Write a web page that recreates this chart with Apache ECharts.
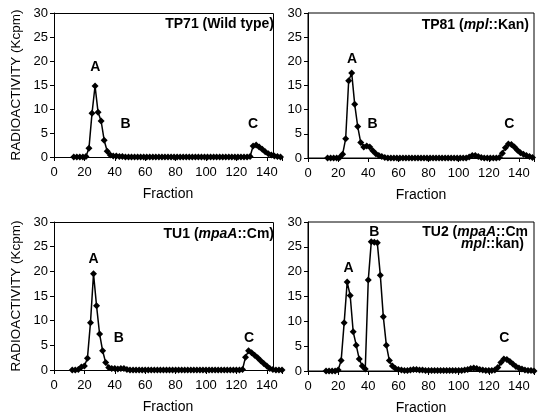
<!DOCTYPE html>
<html><head><meta charset="utf-8">
<script src="https://cdn.jsdelivr.net/npm/echarts@6/dist/echarts.min.js"></script>
<style>html,body{margin:0;padding:0;background:#fff}#c{width:542px;height:418px}</style>
</head><body><div id="c"></div>
<script>
const fractionsOdd = [13,15,17,19,21,23,25,27,29,31,33,35,37,39,41,43,45,47,49,51,53,55,57,59,61,63,65,67,69,71,73,75,77,79,81,83,85,87,89,91,93,95,97,99,101,103,105,107,109,111,113,115,117,119,121,123,125,127,129,131,133,135,137,139,141,143,145,147,149];
const fractionsEven = [12,14,16,18,20,22,24,26,28,30,32,34,36,38,40,42,44,46,48,50,52,54,56,58,60,62,64,66,68,70,72,74,76,78,80,82,84,86,88,90,92,94,96,98,100,102,104,106,108,110,112,114,116,118,120,122,124,126,128,130,132,134,136,138,140,142,144,146,148,150];

// TP71 (Wild type) - odd fractions
const tp71 = [0,0,0,0,0.1,1.8,9.1,14.8,9.3,7.5,3.5,1.2,0.4,0.2,0.2,0.1,0.1,
  0,0,0,0,0,0,0,0,0,0,0,0,0,0,0,0,0,0,0,0,0,0,0,0,0,0,0,0,0,0,0,0,0,0,0,0,0,0,0,0,0,
  0.1,2.3,2.5,2.1,1.6,1.1,0.7,0.4,0.2,0.1,0];
// TP81 (mpl::Kan) - odd fractions
const tp81 = [0,0,0,0,0.1,0.8,4.0,16.0,17.6,11.1,6.5,3.2,2.3,2.5,2.3,1.5,0.9,0.5,0.3,0.1,
  0,0,0,0,0,0,0,0,0,0,0,0,0,0,0,0,0,0,0,0,0,0,0,0,0,0,0,
  0.2,0.5,0.5,0.3,0.1,
  0,0,0,0,0,
  0.1,1.0,2.1,2.9,2.8,2.3,1.6,1.1,0.8,0.5,0.3,0.1];
// TU1 (mpaA::Cm) - even fractions
const tu1 = [0,0,0.1,0.6,0.8,2.4,9.6,19.5,13.0,7.3,3.9,1.5,0.5,0.3,0.3,0.2,0.3,0.3,0.1,
  0,0,0,0,0,0,0,0,0,0,0,0,0,0,0,0,0,0,0,0,0,0,0,0,0,0,0,0,0,0,0,0,0,0,0,0,0,
  0.1,2.6,3.9,3.5,3.0,2.5,1.9,1.3,0.8,0.3,0.1,0,0,0];
// TU2 (mpaA::Cm mpl::kan) - even fractions
const tu2 = [0,0,0,0,0.2,2.1,9.7,17.9,15.2,7.9,5.2,2.4,1.0,0.4,18.3,26.0,25.9,25.8,19.3,10.9,5.2,2.1,1.0,0.5,0.3,
  0.2,0.1,0.1,0.2,0.3,0.3,0.2,0.2,0.1,0.1,0.1,0.1,0.1,0.1,0.1,0.1,0.1,0.1,0.1,0.1,0.1,0.2,0.3,0.5,0.6,0.5,0.3,0.2,0.1,0.1,0.1,
  0.2,0.7,1.7,2.4,2.3,1.9,1.4,0.9,0.6,0.4,0.2,0.1,0.1,0];

const peakNames = ['A','B','C'];
const peakPos1 = [[27.2,18.7],[47,6.9],[131,6.9]];
const peakPos2 = [[29.2,20.5],[42.9,7.0],[133.6,7.0]];
const peakPos3 = [[26,22.4],[42.6,6.4],[128.3,6.4]];
const peakPos4 = [[27,20.7],[44,28],[130.3,6.6]];

const yTicks = [0,5,10,15,20,25,30];
const xTicks = [0,20,40,60,80,100,120,140];

const FONT = '"Liberation Sans", Arial, Helvetica, sans-serif';

const grids = [
  {left:54, top:13, width:228, height:144},
  {left:308, top:13, width:226, height:145, show:true, borderColor:'#000', borderWidth:1},
  {left:54, top:222, width:228, height:148},
  {left:308, top:222, width:226, height:149, show:true, borderColor:'#000', borderWidth:1}
];

function xAxis(i){
  return {gridIndex:i, type:'value', min:0, max:150, interval:20,
    axisLine:{lineStyle:{color:'#000',width:1}},
    axisTick:{length:4, lineStyle:{color:'#000'}},
    axisLabel:{color:'#000', fontSize:13, margin:9, fontFamily:FONT,
      formatter:v => xTicks.indexOf(v) >= 0 ? String(v) : ''},
    splitLine:{show:false},
    name:'Fraction', nameLocation:'middle', nameGap:30,
    nameTextStyle:{color:'#000', fontSize:14, fontFamily:FONT}};
}
function yAxis(i, withName){
  const a = {gridIndex:i, type:'value', min:0, max:30, interval:5,
    axisLine:{show:true, lineStyle:{color:'#000',width:1}},
    axisTick:{show:true, length:4, lineStyle:{color:'#000'}},
    axisLabel:{color:'#000', fontSize:13, margin:6, fontFamily:FONT,
      formatter:v => yTicks.indexOf(v) >= 0 ? String(v) : ''},
    splitLine:{show:false}};
  if (withName) {
    a.name = 'RADIOACTIVITY (Kcpm)';
    a.nameLocation = 'middle';
    a.nameGap = 31;
    a.nameTextStyle = {color:'#000', fontSize:13.5, fontFamily:FONT};
  }
  return a;
}
function lineSeries(i, xs, ys){
  return {type:'line', xAxisIndex:i, yAxisIndex:i,
    data: xs.map((x,k)=>[x, ys[k]]),
    symbol:'diamond', symbolSize:7, showAllSymbol:true,
    lineStyle:{color:'#000', width:1.5}, itemStyle:{color:'#000'},
    animation:false, silent:true, clip:false};
}

const richStyles = {
  b:{fontSize:14, fontWeight:'bold', fontFamily:FONT, fill:'#000'},
  i:{fontSize:14, fontWeight:'bold', fontStyle:'italic', fontFamily:FONT, fill:'#000'}
};
function titleText(x, y, text){
  return {type:'text', x:x, y:y, z:10, silent:true,
    style:{text:text, align:'right', verticalAlign:'middle', rich:richStyles,
      font:'bold 14px ' + FONT, fill:'#000'}};
}
function seg(x1,y1,x2,y2){
  return {type:'line', shape:{x1:x1,y1:y1,x2:x2,y2:y2}, style:{stroke:'#000', lineWidth:1}, z:10, silent:true};
}

const chart = echarts.init(document.getElementById('c'), null, {renderer:'canvas'});
chart.setOption({
  backgroundColor:'#fff',
  animation:false,
  grid: grids,
  xAxis:[xAxis(0), xAxis(1), xAxis(2), xAxis(3)],
  yAxis:[yAxis(0,true), yAxis(1,false), yAxis(2,true), yAxis(3,false)],
  series:[
    lineSeries(0, fractionsOdd, tp71),
    lineSeries(1, fractionsOdd, tp81),
    lineSeries(2, fractionsEven, tu1),
    lineSeries(3, fractionsEven, tu2)
  ]
});

// Peak letters placed through the chart's own scales
const letterEls = [];
[peakPos1, peakPos2, peakPos3, peakPos4].forEach((pos, gi) => {
  pos.forEach((p, k) => {
    const px = chart.convertToPixel({gridIndex: gi}, p);
    letterEls.push({type:'text', x:px[0], y:px[1], z:10, silent:true,
      style:{text:peakNames[k], align:'center', verticalAlign:'middle',
        font:'bold 14px ' + FONT, fill:'#000'}});
  });
});

chart.setOption({
  graphic: [
    seg(54,13.5,273.5,13.5), seg(273.5,13.5,273.5,157),
    seg(54,222.5,273.5,222.5), seg(273.5,222.5,273.5,370),
    titleText(274, 24, '{b|TP71 (Wild type)}'),
    titleText(529, 25, '{b|TP81 (}{i|mpl}{b|::Kan)}'),
    titleText(274, 234, '{b|TU1 (}{i|mpaA}{b|::Cm)}'),
    titleText(528, 232, '{b|TU2 (}{i|mpaA}{b|::Cm}'),
    titleText(524, 244, '{i|mpl}{b|::kan)}')
  ].concat(letterEls)
});
</script></body></html>
